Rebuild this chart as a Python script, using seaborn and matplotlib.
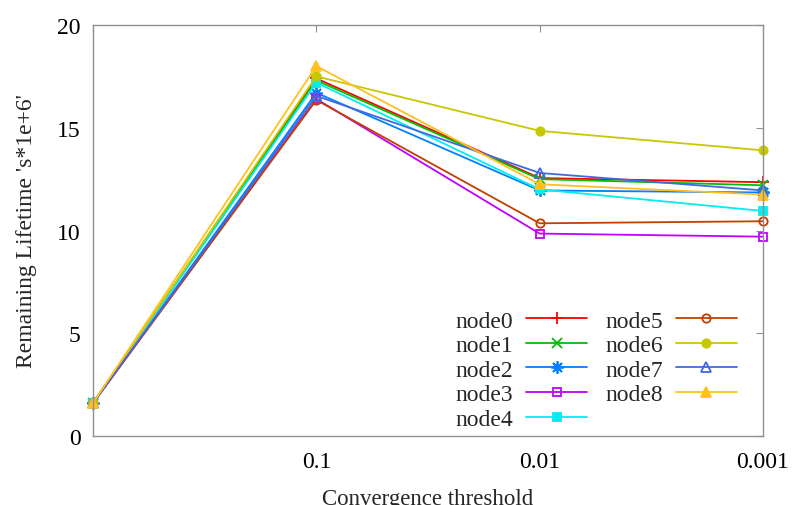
import matplotlib
matplotlib.use("Agg")
import matplotlib.pyplot as plt
import seaborn as sns
import numpy as np

# ---- data ----
x_labels = ["", "0.1", "0.01", "0.001"]
node_names = ["node0", "node1", "node2", "node3", "node4",
              "node5", "node6", "node7", "node8"]
node0 = [1.6, 17.4, 12.55, 12.35]
node1 = [1.6, 17.3, 12.5, 12.2]
node2 = [1.6, 16.7, 11.95, 11.85]
node3 = [1.6, 16.4, 9.85, 9.7]
node4 = [1.6, 17.2, 12.0, 10.95]
node5 = [1.6, 16.35, 10.35, 10.45]
node6 = [1.6, 17.5, 14.85, 13.9]
node7 = [1.6, 16.55, 12.8, 11.95]
node8 = [1.6, 18.0, 12.25, 11.75]
series = [node0, node1, node2, node3, node4, node5, node6, node7, node8]

colors = ["#ff0000", "#00c000", "#0080ff", "#c000ff", "#00eeee",
          "#c04000", "#c8c800", "#4169e1", "#ffc020"]
markers = ["+", "x", (8, 2, 0), "s", "s", "o", "o", "^", "^"]
filled = [True, True, True, False, True, False, True, False, True]
msizes = [9, 7, 9, 6, 6, 6, 6, 7, 7]

sns.set_style("white")
plt.rcParams["font.family"] = ["Liberation Serif", "DejaVu Serif"]
plt.rcParams["font.size"] = 17

fig = plt.figure(figsize=(7.93, 5.06), dpi=100)
ax = fig.add_axes([93 / 793, 1 - 437 / 506, (763 - 93) / 793, (437 - 26) / 506])

xpos = np.arange(len(x_labels))
for name, vals, c, m, f, ms in zip(node_names, series, colors, markers, filled, msizes):
    sns.lineplot(x=xpos, y=vals, ax=ax, color=c, marker=m, label=name,
                 linewidth=1.3, markersize=ms, markeredgecolor=c,
                 markerfacecolor=(c if f else "none"), markeredgewidth=1.3,
                 clip_on=False)

ax.set_xlim(0, 3)
ax.set_ylim(0, 20)
ax.set_xticks(xpos)
ax.set_xticklabels(x_labels)
ax.set_yticks([0, 5, 10, 15, 20])
ax.tick_params(direction="in", length=5, width=0.8, color="#909090",
               top=True, right=True, labelsize=17, labelcolor="black")
ax.tick_params(axis="x", pad=11)
ax.tick_params(axis="y", pad=9)
for sp in ax.spines.values():
    sp.set_color("#909090")
    sp.set_linewidth(1.0)

ax.set_xlabel("Convergence threshold", fontsize=16.5, labelpad=11)
ax.set_ylabel("Remaining Lifetime 's*1e+6'", fontsize=17, labelpad=14)

ax.legend(ncol=2, markerfirst=False, frameon=False, loc="upper right",
          bbox_to_anchor=(737 / 793, 1 - 311 / 506), bbox_transform=fig.transFigure,
          borderpad=0, borderaxespad=0, handlelength=2.6, handletextpad=0.55,
          columnspacing=0.75, labelspacing=0.13, numpoints=1, fontsize=17)

fig.savefig("out.png", dpi=100)
